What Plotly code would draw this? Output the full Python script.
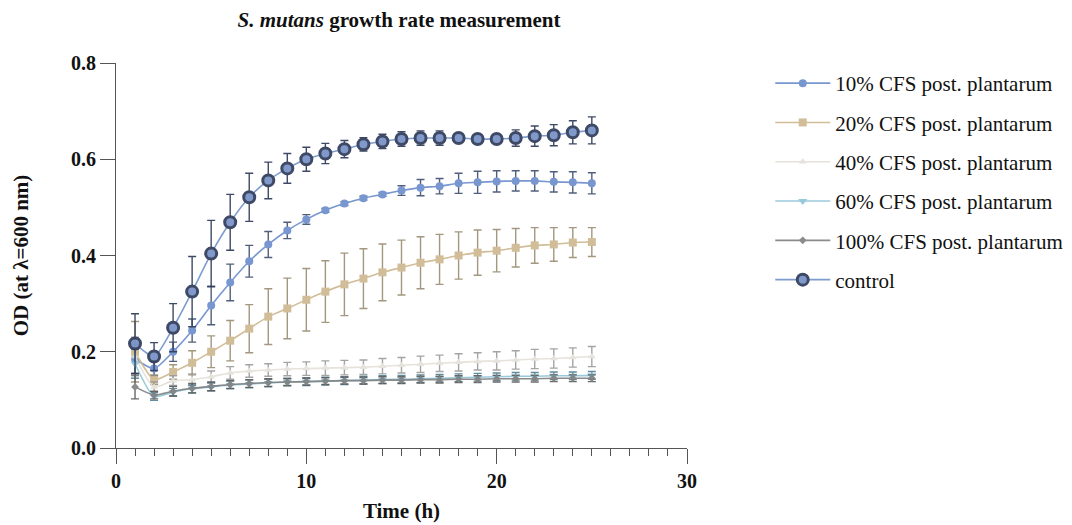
import plotly.graph_objects as go

time_h = list(range(1, 26))

names = ["10% CFS post. plantarum", "20% CFS post. plantarum", "40% CFS post. plantarum",
         "60% CFS post. plantarum", "100% CFS post. plantarum", "control"]

cfs10 = [0.185, 0.165, 0.200, 0.244, 0.296, 0.344, 0.388, 0.423, 0.452, 0.475, 0.494, 0.508, 0.519,
         0.527, 0.535, 0.541, 0.544, 0.550, 0.552, 0.554, 0.555, 0.555, 0.553, 0.552, 0.550]
cfs10_err = [0.030, 0.015, 0.020, 0.024, 0.040, 0.038, 0.033, 0.027, 0.017, 0.010, 0.004, 0.004, 0.004,
             0.004, 0.010, 0.017, 0.016, 0.021, 0.023, 0.022, 0.021, 0.021, 0.021, 0.022, 0.022]

cfs20 = [0.200, 0.142, 0.158, 0.177, 0.200, 0.223, 0.248, 0.273, 0.290, 0.308, 0.325, 0.340, 0.352,
         0.365, 0.375, 0.385, 0.392, 0.400, 0.406, 0.410, 0.416, 0.421, 0.423, 0.427, 0.428]
cfs20_err = [0.063, 0.010, 0.015, 0.025, 0.033, 0.042, 0.050, 0.058, 0.063, 0.065, 0.064, 0.065, 0.062,
             0.059, 0.057, 0.054, 0.052, 0.049, 0.047, 0.044, 0.040, 0.037, 0.035, 0.031, 0.030]

cfs40 = [0.190, 0.127, 0.140, 0.142, 0.148, 0.156, 0.160, 0.162, 0.164, 0.165, 0.166, 0.167, 0.168,
         0.170, 0.172, 0.174, 0.176, 0.178, 0.180, 0.181, 0.183, 0.185, 0.186, 0.188, 0.190]
cfs40_err = [0.040, 0.010, 0.010, 0.012, 0.012, 0.013, 0.013, 0.013, 0.014, 0.014, 0.015, 0.015, 0.015,
             0.016, 0.016, 0.017, 0.017, 0.018, 0.018, 0.019, 0.019, 0.020, 0.020, 0.020, 0.021]

cfs60 = [0.175, 0.107, 0.116, 0.123, 0.127, 0.131, 0.133, 0.135, 0.137, 0.138, 0.139, 0.140, 0.141,
         0.142, 0.143, 0.144, 0.145, 0.146, 0.147, 0.148, 0.149, 0.149, 0.150, 0.150, 0.151]
cfs60_err = [0.030, 0.008, 0.008, 0.008, 0.008, 0.008, 0.008, 0.008, 0.008, 0.008, 0.008, 0.008, 0.008,
             0.008, 0.008, 0.008, 0.008, 0.008, 0.008, 0.008, 0.008, 0.008, 0.008, 0.008, 0.008]

cfs100 = [0.127, 0.110, 0.118, 0.124, 0.128, 0.132, 0.134, 0.136, 0.137, 0.138, 0.139, 0.140, 0.140,
          0.141, 0.141, 0.142, 0.142, 0.143, 0.143, 0.144, 0.144, 0.144, 0.145, 0.145, 0.145]
cfs100_err = [0.025, 0.008, 0.010, 0.010, 0.009, 0.008, 0.008, 0.008, 0.007, 0.007, 0.007, 0.007, 0.007,
              0.007, 0.007, 0.007, 0.007, 0.007, 0.007, 0.007, 0.007, 0.007, 0.007, 0.007, 0.007]

control = [0.217, 0.190, 0.250, 0.325, 0.404, 0.469, 0.521, 0.556, 0.581, 0.600, 0.612, 0.621, 0.631,
           0.637, 0.642, 0.644, 0.644, 0.644, 0.642, 0.642, 0.644, 0.648, 0.650, 0.656, 0.660]
control_err = [0.062, 0.029, 0.050, 0.073, 0.069, 0.058, 0.050, 0.038, 0.031, 0.025, 0.021, 0.018, 0.014,
               0.015, 0.015, 0.015, 0.015, 0.008, 0.008, 0.008, 0.017, 0.021, 0.022, 0.024, 0.028]

series = [
    (names[0], cfs10, cfs10_err, "#6a8ccc", "circle", 8, "#6a8ccc", 0, "#3f4e6e"),
    (names[1], cfs20, cfs20_err, "#cdb78f", "square", 8, "#cdb78f", 0, "#9a8c72"),
    (names[2], cfs40, cfs40_err, "#e3e0d8", "triangle-up", 7, "#e3e0d8", 0, "#9b9b9b"),
    (names[3], cfs60, cfs60_err, "#8fc4d9", "triangle-down", 8, "#8fc4d9", 0, "#4f7f92"),
    (names[4], cfs100, cfs100_err, "#7f7f7f", "diamond", 6, "#7f7f7f", 0, "#5a5a5a"),
    (names[5], control, control_err, "#7898cc", "circle", 11, "#7a94c8", 3, "#34405e"),
]

fig = go.Figure()
for i, (nm, ys, es, col, sym, sz, fillc, lw, ecol) in enumerate(series):
    fig.add_trace(go.Scatter(
        x=time_h, y=ys, name=nm, mode="lines+markers",
        line=dict(color=col, width=1.6, shape="spline", smoothing=0.6),
        marker=dict(symbol=sym, size=sz, color=fillc,
                    line=dict(color="#34405e" if lw else col, width=lw)),
        error_y=dict(type="data", array=es, visible=True, color=ecol, thickness=1.4, width=4),
        opacity=0.9 if i != 5 else 0.95,
        legendgroup="g%d" % i,
    ))

serif = "Liberation Serif, Times New Roman, serif"

fig.update_layout(
    width=1072, height=525,
    paper_bgcolor="white", plot_bgcolor="white",
    margin=dict(l=105, r=391, t=55, b=85),
    font=dict(family=serif, color="#111"),
    title=dict(text="<i>S. mutans</i> growth rate measurement",
               x=391 / 1072, xanchor="center", y=1 - 12 / 525, yanchor="middle",
               font=dict(family=serif, size=21, color="#111", weight="bold")),
    showlegend=True,
    legend=dict(x=1.1458, xanchor="left", y=1.0, yanchor="top",
                font=dict(family=serif, size=21, color="#111"),
                tracegroupgap=9, traceorder="grouped", itemwidth=55,
                bgcolor="rgba(0,0,0,0)"),
)

fig.update_xaxes(
    range=[0, 30], tickvals=[0, 10, 20, 30], showline=True, linecolor="#555", linewidth=1.2,
    ticks="outside", ticklen=15, tickwidth=1.2, tickcolor="#555",
    minor=dict(dtick=1, ticks="outside", ticklen=7, tickwidth=1.2, tickcolor="#555", showgrid=False),
    showgrid=False, zeroline=False,
    tickfont=dict(family=serif, size=20, color="#111", weight="bold"),
    title=dict(text="Time (h)", font=dict(family=serif, size=21, color="#111", weight="bold"), standoff=12),
)
fig.update_yaxes(
    range=[0, 0.8], tickvals=[0, 0.2, 0.4, 0.6, 0.8], tickformat=".1f",
    showline=True, linecolor="#555", linewidth=1.2,
    ticks="outside", ticklen=15, tickwidth=1.2, tickcolor="#555",
    showgrid=False, zeroline=False,
    tickfont=dict(family=serif, size=20, color="#111", weight="bold"),
    title=dict(text="OD (at λ=600 nm)", font=dict(family=serif, size=21, color="#111", weight="bold"), standoff=36),
)

fig.write_html("out.html")
